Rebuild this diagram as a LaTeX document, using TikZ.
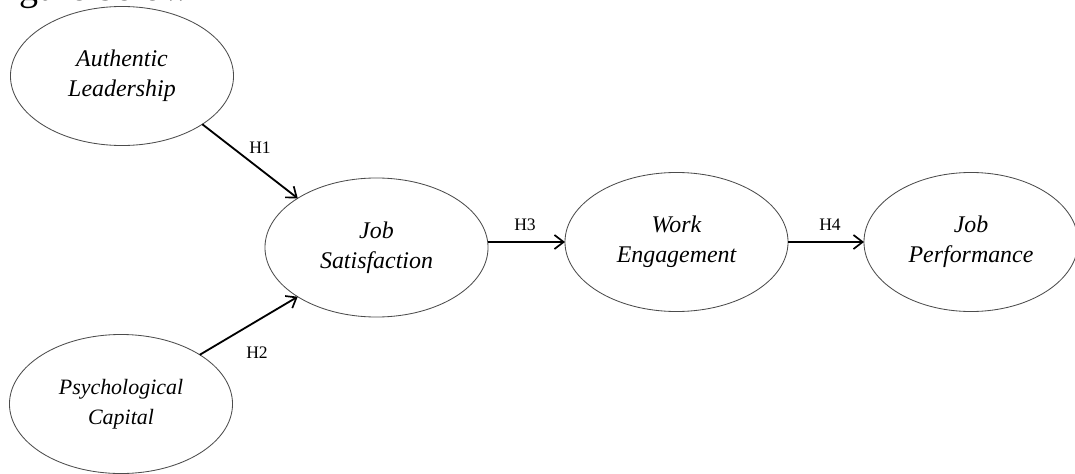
\documentclass[tikz,border=0pt]{standalone}
\usepackage{fontspec}
\setmainfont{Liberation Serif}
\usetikzlibrary{arrows.meta,shapes.geometric}
\begin{document}
\begin{tikzpicture}[x=0.025cm,y=-0.025cm,
  construct/.style={ellipse, draw=black!70, line width=0.6pt, outer sep=0pt,
    minimum width=5.575cm, minimum height=3.475cm, inner sep=0pt,
    align=center, font=\fontsize{17}{21.3}\selectfont\itshape},
  conn/.style={line width=1.3pt, -{Straight Barb[length=6.5pt,width=10pt,line width=1.2pt]}},
  hlabel/.style={font=\fontsize{12.5}{14}\selectfont, inner sep=0pt}]
  \useasboundingbox (0,0) rectangle (1075,473);
  \clip (0,0) rectangle (1075,473);

  % heading line above the model, cut off by the frame
  \node[anchor=base west, inner sep=0pt, font=\fontsize{27}{30}\selectfont] (fig) at (-12,1) {Figure below};

  % constructs
  \node[construct] (al) at (122,76) {Authentic\\Leadership};
  \node[construct, font=\fontsize{15.6}{21}\selectfont\itshape] (pc) at (121,404) {Psychological\\Capital};
  \node[construct] (js) at (376.5,247.5) {Job\\Satisfaction};
  \node[construct] (we) at (676.5,242) {Work\\Engagement};
  \node[construct, minimum width=5.35cm] (jp) at (971,242) {Job\\Performance};

  % hypothesised paths
  \draw[conn] (al.-31) -- (js.148);
  \draw[conn] (pc.32) -- (js.-148);
  \draw[conn] (js.east |- we.west) -- (we.west);
  \draw[conn] (we.east) -- (jp.west);

  % path labels
  \node[hlabel] (h1) at (260,148) {H1};
  \node[hlabel] (h2) at (257,353) {H2};
  \node[hlabel] (h3) at (525,225) {H3};
  \node[hlabel] (h4) at (830,225) {H4};
\end{tikzpicture}
\end{document}
